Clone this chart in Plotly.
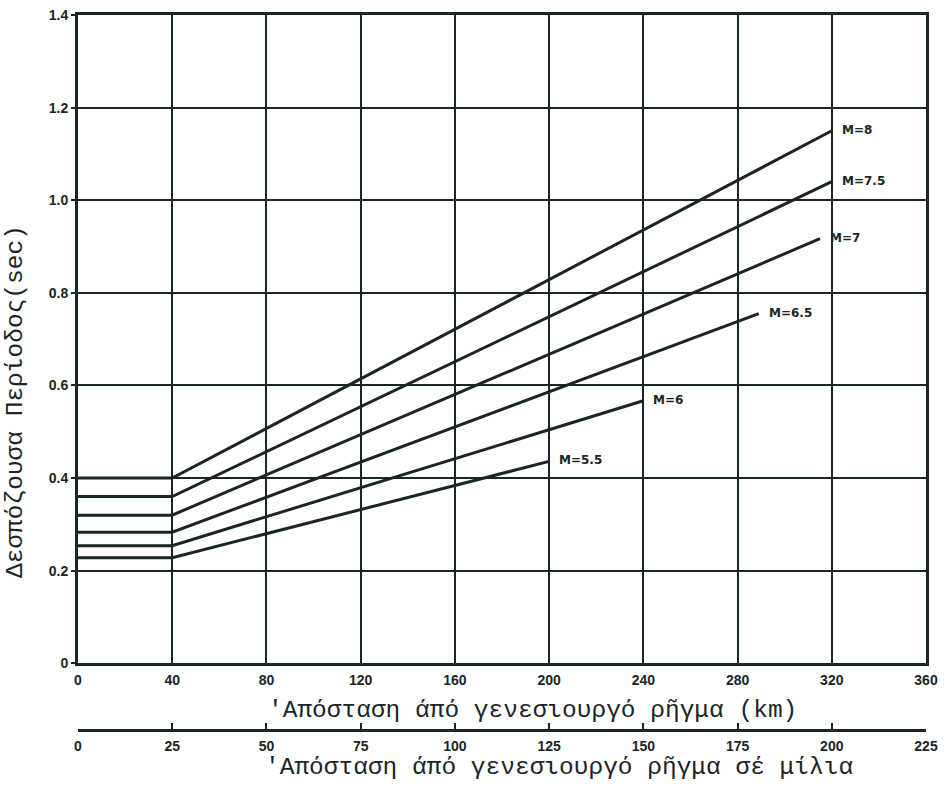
import plotly.graph_objects as go

# ---- data ----
magnitudes = ["M=8", "M=7.5", "M=7", "M=6.5", "M=6", "M=5.5"]
period_flat = [0.40, 0.36, 0.32, 0.283, 0.254, 0.228]   # sec, for 0-40 km
break_km = 40
end_km = [320, 320, 315, 289, 240, 200]
period_end = [1.15, 1.04, 0.917, 0.755, 0.567, 0.436]

km_ticks = [0, 40, 80, 120, 160, 200, 240, 280, 320, 360]
mile_ticks = [0, 25, 50, 75, 100, 125, 150, 175, 200, 225]
y_ticks = [0, 0.2, 0.4, 0.6, 0.8, 1.0, 1.2, 1.4]
y_ticktext = ["0", "0.2", "0.4", "0.6", "0.8", "1.0", "1.2", "1.4"]

INK = "#1b2525"
W, H = 945, 799
L, R, T, B = 78, 19, 15, 0
plot_h = H - T - B
plot_w = W - L - R

def fy(px):
    return (H - B - px) / plot_h

def fx(px):
    return (px - L) / plot_w

fig = go.Figure()

for m, y0, xe, ye in zip(magnitudes, period_flat, end_km, period_end):
    fig.add_trace(go.Scatter(
        x=[0, break_km, xe], y=[y0, y0, ye], mode="lines",
        line=dict(color=INK, width=3), name=m, showlegend=False,
        hoverinfo="skip"))
    fig.add_annotation(x=xe, y=ye, text=m, showarrow=False, xanchor="left",
                       yanchor="middle", xshift=8, yshift=1,
                       font=dict(family="DejaVu Sans", size=12, color=INK, weight="bold"))

# invisible trace to hold the miles axis
fig.add_trace(go.Scatter(x=[mile_ticks[0], mile_ticks[-1]], y=[None, None],
                         xaxis="x2", mode="lines", showlegend=False, hoverinfo="skip"))

tickfont = dict(family="Liberation Sans", size=14, color=INK, weight="bold")

fig.update_layout(
    width=W, height=H,
    margin=dict(l=L, r=R, t=T, b=B),
    paper_bgcolor="white", plot_bgcolor="white",
    xaxis=dict(range=[0, 360], tickvals=km_ticks, ticktext=[str(v) for v in km_ticks],
               showgrid=True, gridcolor=INK, gridwidth=2.2,
               showline=True, linecolor=INK, linewidth=2.8, mirror=True,
               ticks="", tickfont=tickfont, zeroline=False, anchor="y",
               ticklabelstandoff=2),
    yaxis=dict(range=[0, 1.4], tickvals=y_ticks, ticktext=y_ticktext,
               domain=[fy(670), 1],
               showgrid=True, gridcolor=INK, gridwidth=2.2,
               showline=True, linecolor=INK, linewidth=2.8, mirror=True,
               ticks="outside", ticklen=4, tickwidth=2, tickcolor=INK,
               tickfont=tickfont, zeroline=False),
    xaxis2=dict(range=[0, 225], tickvals=mile_ticks, ticktext=[str(v) for v in mile_ticks],
                overlaying="x", anchor="free", position=fy(737), side="bottom",
                showgrid=False, showline=True, linecolor=INK, linewidth=2.5,
                ticks="inside", ticklen=6, tickwidth=2, tickcolor=INK,
                tickfont=tickfont, zeroline=False, ticklabelstandoff=3),
)

titlefont = dict(family="Liberation Mono", size=24.5, color=INK)
fig.add_annotation(xref="paper", yref="paper", x=fx(266), y=fy(718),
                   text="'Απόσταση άπό γενεσιουργό ρῆγμα (km)", showarrow=False,
                   xanchor="left", yanchor="middle", font=titlefont)
fig.add_annotation(xref="paper", yref="paper", x=fx(263), y=fy(775),
                   text="'Απόσταση άπό γενεσιουργό ρῆγμα σέ μίλια", showarrow=False,
                   xanchor="left", yanchor="middle", font=titlefont)
fig.add_annotation(xref="paper", yref="paper", x=fx(15), y=fy(406),
                   text="Δεσπόζουσα Περίοδος(sec)", showarrow=False, textangle=-90,
                   xanchor="center", yanchor="middle", font=titlefont)

fig.write_html("out.html", config={"displayModeBar": False},
               post_script="document.body.style.margin='0';document.body.style.overflow='hidden';")
